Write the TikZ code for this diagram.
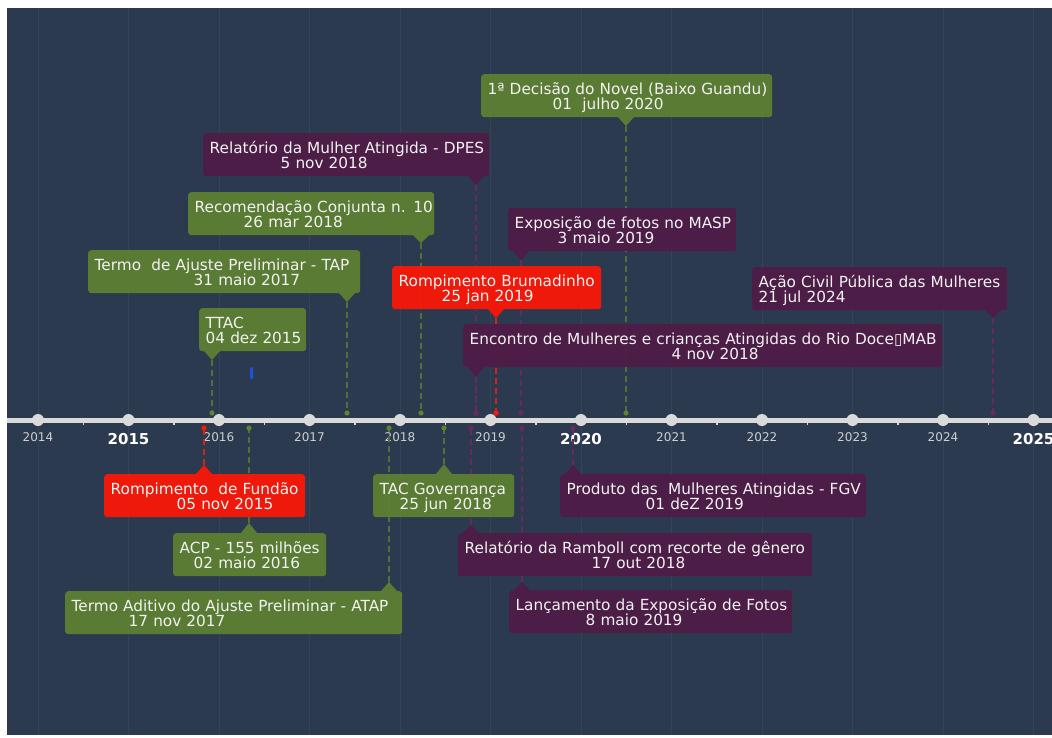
\documentclass[tikz,border=0pt]{standalone}
\usepackage{fontspec}
\setmainfont{DejaVu Sans}
\begin{document}
\begin{tikzpicture}[x=1pt,y=-1pt]
\definecolor{bgcol}{HTML}{2C3A4F}
\definecolor{gridcol}{HTML}{344459}
\definecolor{gcol}{HTML}{5E8132}
\definecolor{pcol}{HTML}{4F1B47}
\definecolor{rcol}{HTML}{FF1706}
\definecolor{gline}{HTML}{52703A}
\definecolor{pline}{HTML}{652A5E}
\definecolor{rline}{HTML}{D42318}
\definecolor{axcol}{HTML}{DADADA}
\definecolor{txtcol}{HTML}{F2F2F2}
\definecolor{yrcol}{HTML}{CFCFCF}
\definecolor{bluecol}{HTML}{1E50E0}
\tikzset{
  evbox/.style={rounded corners=3pt, anchor=north west, text=txtcol, fill opacity=0.92, text opacity=1,
    font=\fontsize{15.3}{15.5}\selectfont, align=left, inner xsep=6.5pt, inner ysep=5pt,
    text height=15pt, text depth=18pt, minimum height=43pt},
  gbox/.style={evbox, fill=gcol},
  pbox/.style={evbox, fill=pcol},
  rbox/.style={evbox, fill=rcol},
  ptr/.style={fill opacity=0.92},
  conn/.style={line width=1.4pt, dash pattern=on 6pt off 4pt},
  gconn/.style={conn, draw=gline},
  pconn/.style={conn, draw=pline},
  rconn/.style={conn, draw=rline},
  yearlbl/.style={anchor=base, text=yrcol, font=\fontsize{12}{12}\selectfont, inner sep=0pt},
  yearbold/.style={anchor=base, text=white, font=\bfseries\fontsize{15}{15}\selectfont, inner sep=0pt},
  yeardot/.style={fill=axcol, draw=none},
}
\useasboundingbox (0,0) rectangle (1052,737);
\fill[white] (0,0) rectangle (1052,737);
\fill[bgcol] (7,8) rectangle (1052,735);
% grid lines
\foreach \k in {0,...,11} {
  \draw[gridcol, line width=0.8pt] ({38+\k*90.5},8) -- ({38+\k*90.5},735);
}
% axis
\draw[axcol, line width=5pt] (7,420) -- (1052,420);
\foreach \k in {0,...,10} {
  \draw[axcol, line width=1.5pt] ({38+(\k+0.5)*90.5},420) -- ({38+(\k+0.5)*90.5},425);
}
\foreach \k in {0,...,11} {
  \fill[yeardot] ({38+\k*90.5},420) circle (6pt);
}
\node[yearlbl] (y2014) at (38,441) {2014};
\node[yearbold] (y2015) at (128.5,444) {2015};
\node[yearlbl] (y2016) at (219,441) {2016};
\node[yearlbl] (y2017) at (309.5,441) {2017};
\node[yearlbl] (y2018) at (400,441) {2018};
\node[yearlbl] (y2019) at (490.5,441) {2019};
\node[yearbold] (y2020) at (581,444) {2020};
\node[yearlbl] (y2021) at (671.5,441) {2021};
\node[yearlbl] (y2022) at (762,441) {2022};
\node[yearlbl] (y2023) at (852.5,441) {2023};
\node[yearlbl] (y2024) at (943,441) {2024};
\node[yearbold] (y2025) at (1033.5,444) {2025};

% blue mark
\fill[bluecol, rounded corners=1pt] (250,367) rectangle (253,379);

% ===== connectors (drawn under the boxes) =====
\foreach \nm/\x/\ya/\yb/\st in {
  novel/626/126/413/gconn, dpes/476/185/413/pconn, recom/421/243/413/gconn,
  masp/521/260/413/pconn, tap/347/302/413/gconn, brum/496/318/413/rconn,
  acao/993/318/413/pconn, ttac/212/360/413/gconn, encontro/476/377/413/pconn,
  fundao/204/465/428/rconn, tacgov/444/464/428/gconn, produto/573/465/428/pconn,
  acp/249/523/428/gconn, ramboll/471/525/428/pconn, atap/389/582/428/gconn,
  lanc/522/582/428/pconn} {
  \coordinate (\nm-tip) at (\x,\ya);
  \coordinate (\nm-dot) at (\x,\yb);
  \draw[\st] (\nm-tip) -- (\nm-dot);
}
\foreach \nm/\c in {novel/gcol, recom/gcol, tap/gcol, ttac/gcol, tacgov/gcol, acp/gcol, atap/gcol,
  dpes/pline, masp/pline, acao/pline, encontro/pline, produto/pline, ramboll/pline, lanc/pline,
  brum/rcol, fundao/rcol} {
  \fill[\c] (\nm-dot) circle (2.6pt);
}

% ===== boxes above =====
\node[gbox, text width=278pt] (novel) at (481,74) {\mbox{1ª Decisão do Novel (Baixo Guandu)}\\\hspace*{65pt}\mbox{01~ julho 2020}};
\fill[gcol, ptr] (618,117) -- (626,126) -- (634,117) -- cycle;

\node[pbox, text width=273pt] (dpes) at (203,133) {\mbox{Relatório da Mulher Atingida - DPES}\\\hspace*{71pt}\mbox{5 nov 2018}};
\fill[pcol, ptr] (468,176) -- (476,185) -- (484,176) -- cycle;

\node[gbox, text width=233pt] (recom) at (188,192) {\mbox{Recomendação Conjunta n. 10}\\\hspace*{49pt}\mbox{26 mar 2018}};
\fill[gcol, ptr] (413,235) -- (421,243) -- (429,235) -- cycle;

\node[pbox, text width=215pt] (masp) at (508,208) {\mbox{Exposição de fotos no MASP}\\\hspace*{43pt}\mbox{3 maio 2019}};
\fill[pcol, ptr] (513,251) -- (521,260) -- (529,251) -- cycle;

\node[gbox, text width=259pt] (tap) at (88,250) {\mbox{Termo~ de Ajuste Preliminar - TAP}\\\hspace*{99pt}\mbox{31 maio 2017}};
\fill[gcol, ptr] (339,293) -- (347,302) -- (355,293) -- cycle;

\node[rbox, text width=196pt] (brum) at (392,266) {\mbox{Rompimento Brumadinho}\\\hspace*{43pt}\mbox{25 jan 2019}};
\fill[rcol, ptr] (488,309) -- (496,318) -- (504,309) -- cycle;

\node[pbox, text width=242pt] (acao) at (752,267) {\mbox{Ação Civil Pública das Mulheres}\\\mbox{21 jul 2024}};
\fill[pcol, ptr] (985,310) -- (993,318) -- (1001,310) -- cycle;

\node[gbox, text width=94pt] (ttac) at (199,308) {\mbox{TTAC}\\\mbox{04 dez 2015}};
\fill[gcol, ptr] (204,351) -- (212,360) -- (220,351) -- cycle;

\node[pbox, text width=466pt] (encontro) at (463,324) {\mbox{Encontro de Mulheres e crianças Atingidas do Rio Doce▯MAB}\\\hspace*{202pt}\mbox{4 nov 2018}};
\fill[pcol, ptr] (468,367) -- (476,377) -- (484,367) -- cycle;

% ===== boxes below =====
\node[rbox, text width=188pt] (fundao) at (104,474) {\mbox{Rompimento~ de Fundão}\\\hspace*{66pt}\mbox{05 nov 2015}};
\fill[rcol, ptr] (196,474) -- (204,465) -- (212,474) -- cycle;

\node[gbox, text width=128pt] (tacgov) at (373,474) {\mbox{TAC Governança}\\\hspace*{20pt}\mbox{25 jun 2018}};
\fill[gcol, ptr] (436,474) -- (444,464) -- (452,474) -- cycle;

\node[pbox, text width=293pt] (produto) at (560,474) {\mbox{Produto das~ Mulheres Atingidas - FGV}\\\hspace*{79pt}\mbox{01 deZ 2019}};
\fill[pcol, ptr] (565,474) -- (573,465) -- (581,474) -- cycle;

\node[gbox, text width=140pt] (acp) at (173,533) {\mbox{ACP - 155 milhões}\\\hspace*{14pt}\mbox{02 maio 2016}};
\fill[gcol, ptr] (241,533) -- (249,523) -- (257,533) -- cycle;

\node[pbox, text width=341pt] (ramboll) at (458,533) {\mbox{Relatório da Ramboll com recorte de gênero}\\\hspace*{127pt}\mbox{17 out 2018}};
\fill[pcol, ptr] (463,533) -- (471,525) -- (479,533) -- cycle;

\node[gbox, text width=324pt] (atap) at (65,591) {\mbox{Termo Aditivo do Ajuste Preliminar - ATAP}\\\hspace*{57pt}\mbox{17 nov 2017}};
\fill[gcol, ptr] (381,591) -- (389,582) -- (397,591) -- cycle;

\node[pbox, text width=270pt] (lanc) at (509,590) {\mbox{Lançamento da Exposição de Fotos}\\\hspace*{70pt}\mbox{8 maio 2019}};
\fill[pcol, ptr] (514,590) -- (522,582) -- (530,590) -- cycle;
\end{tikzpicture}
\end{document}
